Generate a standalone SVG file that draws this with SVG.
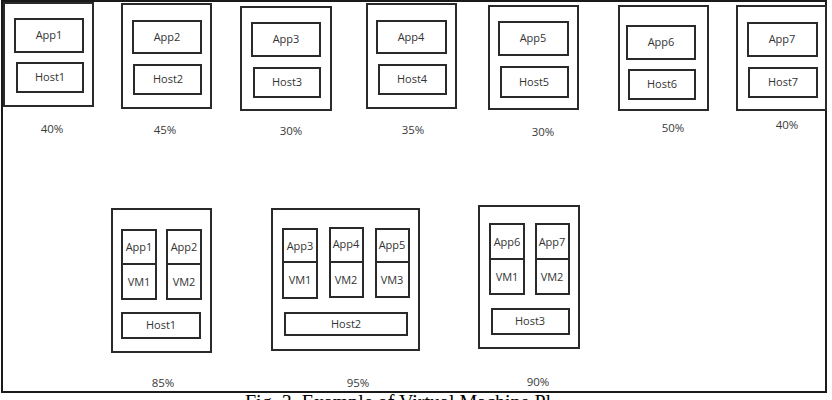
<svg xmlns="http://www.w3.org/2000/svg" width="832" height="400" viewBox="0 0 832 400">
<style>
.frame{fill:#fff;stroke:#1a1a1a;stroke-width:2}
.box{fill:#fff;stroke:#2a2a2a;stroke-width:2}
.in{fill:#fff;stroke:#2a2a2a;stroke-width:2}
.lbl{font-family:"Open Sans","DejaVu Sans",sans-serif;font-size:11px;fill:#333;text-anchor:middle}
.pct{font-family:"Open Sans","DejaVu Sans",sans-serif;font-size:11.5px;fill:#3a3a3a;text-anchor:middle}
.cap{font-family:"Liberation Serif","Times New Roman",serif;font-size:20px;fill:#000}
</style>
<rect x="0" y="0" width="832" height="400" fill="#fff"/>
<rect class="frame" x="2" y="1" width="824" height="391"/>

<g id="server1">
<rect class="box" x="4" y="3" width="89" height="103"/>
<rect class="in" x="15" y="19" width="68" height="33"/>
<text class="lbl" x="49" y="39">App1</text>
<rect class="in" x="17" y="63" width="66" height="29"/>
<text class="lbl" x="50" y="81">Host1</text>
<text class="pct" x="52" y="133">40%</text>
</g>

<g id="server2">
<rect class="box" x="122" y="4" width="89" height="104"/>
<rect class="in" x="133" y="21" width="68" height="32"/>
<text class="lbl" x="167" y="41">App2</text>
<rect class="in" x="134" y="65" width="67" height="29"/>
<text class="lbl" x="168" y="83">Host2</text>
<text class="pct" x="165" y="134">45%</text>
</g>

<g id="server3">
<rect class="box" x="241" y="7" width="90" height="103"/>
<rect class="in" x="252" y="23" width="68" height="33"/>
<text class="lbl" x="286" y="43">App3</text>
<rect class="in" x="254" y="68" width="66" height="29"/>
<text class="lbl" x="287" y="86">Host3</text>
<text class="pct" x="291" y="135">30%</text>
</g>

<g id="server4">
<rect class="box" x="367" y="4" width="89" height="104"/>
<rect class="in" x="377" y="21" width="69" height="32"/>
<text class="lbl" x="411" y="41">App4</text>
<rect class="in" x="379" y="65" width="67" height="29"/>
<text class="lbl" x="412" y="83">Host4</text>
<text class="pct" x="413" y="134">35%</text>
</g>

<g id="server5">
<rect class="box" x="489" y="6" width="89" height="103"/>
<rect class="in" x="499" y="22" width="69" height="33"/>
<text class="lbl" x="533" y="42">App5</text>
<rect class="in" x="501" y="67" width="67" height="30"/>
<text class="lbl" x="534" y="86">Host5</text>
<text class="pct" x="543" y="136">30%</text>
</g>

<g id="server6">
<rect class="box" x="619" y="6" width="89" height="104"/>
<rect class="in" x="627" y="26" width="68" height="33"/>
<text class="lbl" x="661" y="46">App6</text>
<rect class="in" x="629" y="70" width="66" height="29"/>
<text class="lbl" x="662" y="88">Host6</text>
<text class="pct" x="673" y="132">50%</text>
</g>

<g id="server7">
<rect class="box" x="737" y="6" width="89" height="104"/>
<rect class="in" x="748" y="23" width="69" height="33"/>
<text class="lbl" x="782" y="43">App7</text>
<rect class="in" x="749" y="68" width="68" height="29"/>
<text class="lbl" x="783" y="86">Host7</text>
<text class="pct" x="787" y="129">40%</text>
</g>

<g id="vhost1">
<rect class="box" x="112" y="209" width="99" height="143"/>
<rect class="in" x="122" y="230" width="34" height="34"/>
<text class="lbl" x="139" y="251">App1</text>
<rect class="in" x="122" y="264" width="34" height="35"/>
<text class="lbl" x="139" y="286">VM1</text>
<rect class="in" x="167" y="230" width="34" height="34"/>
<text class="lbl" x="184" y="251">App2</text>
<rect class="in" x="167" y="264" width="34" height="35"/>
<text class="lbl" x="184" y="286">VM2</text>
<rect class="in" x="122" y="313" width="78" height="25"/>
<text class="lbl" x="161" y="329">Host1</text>
<text class="pct" x="163" y="387">85%</text>
</g>

<g id="vhost2">
<rect class="box" x="272" y="209" width="147" height="141"/>
<rect class="in" x="283" y="229" width="34" height="33"/>
<text class="lbl" x="300" y="250">App3</text>
<rect class="in" x="283" y="262" width="34" height="36"/>
<text class="lbl" x="300" y="284">VM1</text>
<rect class="in" x="330" y="228" width="33" height="34"/>
<text class="lbl" x="346" y="248">App4</text>
<rect class="in" x="330" y="262" width="33" height="35"/>
<text class="lbl" x="346" y="284">VM2</text>
<rect class="in" x="376" y="229" width="33" height="33"/>
<text class="lbl" x="392" y="249">App5</text>
<rect class="in" x="376" y="262" width="33" height="35"/>
<text class="lbl" x="392" y="284">VM3</text>
<rect class="in" x="285" y="313" width="122" height="22"/>
<text class="lbl" x="346" y="328">Host2</text>
<text class="pct" x="358" y="387">95%</text>
</g>

<g id="vhost3">
<rect class="box" x="479" y="206" width="100" height="142"/>
<rect class="in" x="490" y="224" width="34" height="35"/>
<text class="lbl" x="507" y="246">App6</text>
<rect class="in" x="490" y="259" width="34" height="35"/>
<text class="lbl" x="507" y="281">VM1</text>
<rect class="in" x="536" y="224" width="33" height="35"/>
<text class="lbl" x="552" y="246">App7</text>
<rect class="in" x="536" y="259" width="33" height="35"/>
<text class="lbl" x="552" y="281">VM2</text>
<rect class="in" x="492" y="309" width="77" height="25"/>
<text class="lbl" x="530" y="325">Host3</text>
<text class="pct" x="538" y="386">90%</text>
</g>

<text class="cap" x="245" y="409">Fig. 3. Example of Virtual Machine Pl</text>
</svg>
